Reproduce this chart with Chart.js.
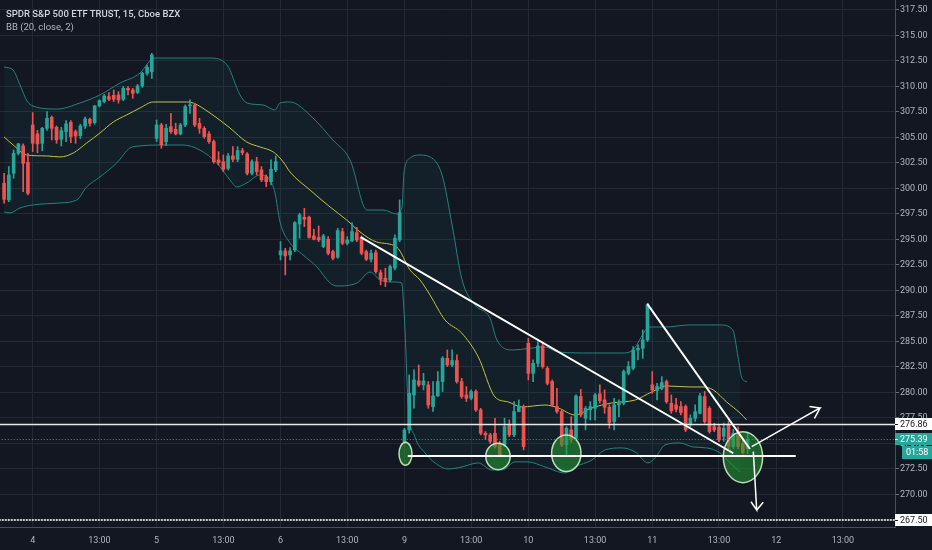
<!DOCTYPE html>
<html><head><meta charset="utf-8">
<script src="https://cdn.jsdelivr.net/npm/chart.js@4.4.1/dist/chart.umd.min.js"></script>
<style>
html,body{margin:0;padding:0;background:#131722;overflow:hidden}
#wrap{position:relative;width:932px;height:550px}
canvas{display:block}
.lg{position:absolute;left:6px;font-family:Roboto,sans-serif;white-space:nowrap;line-height:12px}
#t1{top:8px;font-size:9.5px;font-weight:500;color:#d1d4dc}
#t2{top:21px;font-size:9.5px;color:#b2b5be}
</style></head><body>
<div id="wrap"><canvas id="c" width="932" height="550"></canvas>
<div class="lg" id="t1">SPDR S&amp;P 500 ETF TRUST, 15, Cboe BZX</div>
<div class="lg" id="t2">BB (20, close, 2)</div></div>
<script>
// ---- candles (15-min bars, index 0 = first visible bar) ----
const openV = [
300.51,298.88,301.49,303.45,304.17,302.57,
306.23,305.35,304.43,305.9,306.98,306.0,304.83,305.58,306.49,305.58,305.18,306.13,306.79,306.46,308.09,308.52,309.01,309.14,309.17,308.75,309.82,309.66,309.4,310.05,311.29,311.46,
304.92,306.23,304.6,306.06,305.8,305.35,306.23,308.1,308.19,306.39,305.9,305.35,304.6,302.8,302.63,301.98,303.19,302.86,303.71,303.39,301.49,302.63,301.82,301.16,300.67,301.82,
293.49,293.88,293.49,293.97,296.52,297.18,297.18,295.35,295.2,294.3,295.02,293.81,293.26,295.77,294.63,294.89,295.67,295.2,293.81,293.06,293.71,291.75,291.2,291.03,292.2,294.95,
275.18,276.33,279.76,281.13,280.74,280.74,278.62,279.66,281.07,283.35,282.7,283.13,281.07,279.76,279.43,280.09,278.29,276.0,275.84,276.0,275.02,274.86,276.82,275.84,278.13,278.62,
284.82,281.88,282.86,284.56,282.37,281.07,278.62,278.13,274.86,276.33,275.5,279.6,277.47,278.3,278.45,279.86,279.27,278.55,277.15,278.78,278.94,281.88,282.37,284.17,284.33,285.15,
280.74,280.2,280.4,281.07,278.94,278.78,278.62,278.62,276.82,277.47,277.96,279.6,278.45,276.65,276.59,275.7,276.9,274.7,276.0,275.0,274.5];
const highV = [
301.49,302.14,303.78,304.43,304.37,303.45,
307.44,305.7,306.0,307.54,307.11,306.13,306.0,306.65,306.65,305.74,306.3,307.0,306.9,308.15,308.7,309.2,309.4,309.66,309.5,310.0,309.99,309.82,310.2,311.4,312.1,313.26,
306.72,306.39,306.3,307.37,306.4,306.39,308.19,308.68,308.35,306.88,306.06,305.57,304.76,303.61,303.29,303.45,304.1,304.1,303.94,303.52,302.8,303.06,302.15,301.33,302.8,303.19,
294.79,294.14,294.2,296.75,297.57,298.06,297.3,296.0,296.33,295.5,295.28,293.97,296.1,296.1,295.28,296.65,296.19,295.35,293.97,293.97,293.97,292.01,292.18,292.5,295.45,298.88,
276.49,281.72,282.21,282.7,281.88,281.07,281.07,282.05,283.52,284.17,284.17,283.68,281.39,280.58,280.25,280.25,278.45,276.17,276.0,277.47,275.2,277.47,277.31,279.11,279.27,278.78,
285.31,283.19,284.99,284.82,282.54,281.23,280.41,278.29,276.65,277.63,279.76,280.3,278.62,279.11,279.92,280.74,280.25,278.78,279.43,279.27,282.21,283.03,284.5,284.66,286.13,288.75,
282.05,280.9,281.56,281.23,279.76,279.43,279.1,278.78,277.8,278.78,279.92,280.1,278.62,276.98,276.82,277.0,277.2,276.4,276.6,275.4,276.1];
const lowV = [
298.55,298.71,301.0,303.29,299.69,299.37,
303.62,303.5,303.7,305.7,304.76,304.43,304.17,304.6,304.5,304.43,304.9,305.9,306.1,306.3,308.0,308.4,308.61,308.52,308.37,308.6,309.17,308.84,309.3,309.9,311.1,310.8,
304.6,303.94,304.2,305.41,305.25,305.25,306.06,307.37,306.06,305.41,304.92,304.43,302.47,302.31,301.65,301.82,302.63,302.63,303.29,301.33,301.33,301.33,300.67,300.18,300.35,301.65,
292.99,291.52,293.0,293.81,295.12,296.26,295.12,294.95,294.79,294.2,293.49,292.99,293.16,294.47,294.47,294.79,294.79,293.49,292.93,292.8,291.69,290.55,290.38,290.87,292.01,294.79,
275.0,276.0,278.45,280.58,280.25,278.45,278.13,279.6,280.09,282.54,282.54,280.9,279.43,279.11,279.27,278.13,275.84,275.4,275.0,274.53,273.7,274.69,275.67,275.67,278.1,274.37,
281.23,281.07,282.54,282.37,280.74,278.62,277.96,274.69,273.72,275.1,275.35,277.63,276.33,277.3,277.3,278.94,277.96,276.49,276.33,277.63,278.78,281.72,282.21,283.19,283.35,285.0,
279.92,279.27,280.25,278.94,277.96,278.1,277.8,276.16,276.65,277.15,277.9,276.98,276.0,276.16,275.18,275.2,274.4,274.5,274.5,274.0,274.0];
const closeV = [
298.94,301.33,303.45,304.37,302.47,299.53,
304.43,304.37,305.9,306.88,305.9,304.76,305.67,306.33,305.09,305.15,306.13,306.82,306.39,308.09,308.61,309.07,308.75,308.75,308.68,309.82,309.66,309.33,310.05,311.29,311.88,313.09,
306.23,304.27,305.9,305.57,305.35,306.23,308.03,308.19,306.23,305.9,305.09,304.6,302.63,302.54,301.88,303.19,302.86,303.71,303.52,301.49,302.63,301.65,300.84,300.67,301.88,302.63,
293.88,293.39,293.88,296.65,297.41,296.98,295.2,295.02,294.95,295.35,293.65,293.16,295.87,294.63,294.95,295.77,294.95,293.65,293.06,293.65,291.85,291.1,290.9,292.34,295.12,297.64,
276.33,279.92,281.23,280.74,281.13,278.78,279.66,281.07,283.35,282.7,283.13,281.07,279.6,279.43,280.09,278.29,276.0,275.84,275.2,274.69,273.88,276.65,275.84,278.13,278.62,274.69,
281.88,282.86,284.56,282.54,280.9,278.78,278.13,274.86,276.49,275.5,279.66,277.8,278.45,278.62,279.76,279.2,278.55,277.05,278.78,278.94,282.05,282.54,284.17,284.33,285.15,288.58,
280.25,280.58,280.97,279.1,278.2,278.35,278.03,276.33,277.47,278.12,279.66,277.15,276.16,276.33,275.35,276.5,274.7,276.0,274.7,274.1,275.39];

// ---- Bollinger Bands (at bar positions) ----
const bbUpperIdx = [0,1.87,3.34,4.81,6.06,11.1,15.9,20.1,24.32,28.51,30.2,31.24,43.2,46.77,49.5,50.97,54.32,56.84,57.89,60.0,64.81,69.0,72.6,76.14,79.5,82.44,83.49,83.9,85.2,87.27,89.4,91.9,94.0,96.1,98.8,101.95,103.4,106.6,113.5,116.2,123.4,129.6,131.7,135.5,138.7,143.9,150.2,152.9,154.0,154.8,155.9];
const bbUpperVal = [311.91,311.62,310.15,308.58,308.09,307.79,308.38,309.17,310.34,311.32,312.3,312.79,312.79,312.11,309.17,308.38,308.19,307.7,308.38,308.48,306.91,304.75,302.79,297.89,297.89,297.5,298.19,301.52,302.99,303.28,303.09,301.32,296.42,291.03,288.58,287.3,285.15,284.17,284.46,283.97,283.87,283.87,284.07,286.42,286.42,286.62,286.62,286.13,283.48,281.42,281.03];
const bbMidIdx = [0,1.93,4.74,8.94,11.73,14.52,17.33,20.12,22.91,25.72,28.51,31.31,38.31,39.7,43.2,47.4,50.9,53.7,56.48,58.58,59.99,64.18,68.38,71.88,74.67,78.18,82.37,85.17,87.27,89.36,92.51,96.01,99.5,103.0,105.8,108.6,113.5,116.3,119.8,123.3,127.5,132.4,135.9,139.0,143.9,146.7,148.8,151.6,154.4,155.8];
const bbMidVal = [305.05,304.26,303.28,303.19,303.09,303.48,304.46,305.44,306.52,307.21,307.89,308.48,308.48,308.38,307.4,305.93,304.56,304.07,303.58,302.6,301.62,299.85,298.19,296.91,295.74,294.75,294.26,292.01,291.03,289.56,287.11,285.83,283.48,279.56,279.07,278.58,278.77,278.48,277.79,278.48,278.97,279.26,280.05,280.64,280.54,280.54,280.25,279.07,277.99,277.3];
const bbLowIdx = [0,1.24,3.34,6.06,11.73,15.23,17.33,20.12,23.63,26.42,28.51,32.02,37.54,41.1,44.61,47.4,48.8,50.9,53.69,55.79,56.84,57.89,59.99,62.72,65.65,68.38,69.85,74.05,76.78,78.87,81.6,83.42,83.76,84.12,84.75,86.21,88.32,90.41,93.14,96.08,99.43,102.37,104.47,107.2,109.93,113.5,117.7,119.8,123.35,126.08,129.65,132.38,135.1,136.57,138.67,141.8,144.5,147.5,150.2,152.3,154.4];
const bbLowVal = [297.7,297.6,298.09,298.38,298.58,298.87,300.15,301.13,302.5,303.97,304.17,304.26,304.26,303.77,302.5,300.83,300.15,300.54,301.32,300.83,299.56,296.72,294.66,293.48,292.3,290.74,290.44,290.74,291.81,291.03,290.83,290.74,289.07,286.13,278.97,275.64,274.07,273.09,272.5,272.7,273.09,272.4,272.4,273.19,273.19,272.7,272.11,272.7,273.38,274.36,274.56,274.17,273.09,273.58,274.85,275.05,274.66,274.56,274.07,273.09,272.21];

// ---- axis ticks ----
const xTickIdx = [6,20,32,46,58,72,84,98,110,124,136,150,162,176];
const xTickLabels = ['4','13:00','5','13:00','6','13:00','9','13:00','10','13:00','11','13:00','12','13:00'];
const yTickVals = [267.5,270,272.5,275,277.5,280,282.5,285,287.5,290,292.5,295,297.5,300,302.5,305,307.5,310,312.5,315,317.5];

// ---- drawings (bar index, price) ----
const trend1X = [74.82,153.0], trend1Y = [295.22,274.04];
const trend2X = [134.96,156.5], trend2Y = [288.68,274.46];
const supportX = [84.7,166.1], supportY = [273.77,273.77];
const arrowUpX = [156.86,171.19,168.99,171.19,170.03], arrowUpY = [274.69,278.48,278.63,278.48,277.45];
const arrowDnX = [157.2,157.91,156.71,157.91,159.29], arrowDnY = [274.2,268.48,269.29,268.48,269.24];
const ellX = [84.22,103.63,117.96,155.03], ellY = [274.0,273.73,274.04,273.66];
const ellRX = [1.36,2.56,3.08,4.13], ellRY = [1.13,1.3,1.8,2.5];
const hLevels = [276.86,275.39,267.5];
const tagVals = [276.86,275.39,267.5];
const countdown = '01:58';

const upColor = '#26a69a', downColor = '#ef5350';
const N = openV.length;
const ids = Array.from({length:N},(_,i)=>i);
const cColors = ids.map(i => closeV[i] >= openV[i] ? upColor : downColor);
const pts = (xs,ys) => xs.map((x,k)=>({x:x,y:ys[k]}));
const flat = v => [{x:-3,y:v},{x:200,y:v}];

const lineBase = {type:'line', pointRadius:0, borderWidth:2, borderColor:'#ffffff', fill:false, tension:0, order:1};

const bgPlugin = {id:'bg', beforeDraw(c){const x=c.ctx; x.save(); x.fillStyle='#131722'; x.fillRect(0,0,c.width,c.height); x.restore();}};
const ellPlugin = {id:'ell', afterDatasetDraw(c,args){
  if (c.data.datasets[args.index].label !== 'bodies') return;
  const xs=c.scales.x, ys=c.scales.y, ctx=c.ctx, a=c.chartArea;
  ctx.save(); ctx.beginPath(); ctx.rect(a.left,a.top,a.right-a.left,a.bottom-a.top); ctx.clip();
  for (let i=0;i<ellX.length;i++){
    const cx=xs.getPixelForValue(ellX[i]), cy=ys.getPixelForValue(ellY[i]);
    const rx=Math.abs(xs.getPixelForValue(ellX[i]+ellRX[i])-cx), ry=Math.abs(ys.getPixelForValue(ellY[i]+ellRY[i])-cy);
    ctx.beginPath(); ctx.ellipse(cx,cy,rx,ry,0,0,Math.PI*2);
    ctx.fillStyle='rgba(38,150,50,0.58)'; ctx.fill();
    ctx.lineWidth=1.5; ctx.strokeStyle='rgba(205,240,200,0.9)'; ctx.stroke();
  }
  ctx.restore();
}};
const tagPlugin = {id:'tags', afterDraw(c){
  const ys=c.scales.y, ctx=c.ctx, L=c.chartArea.right;
  const bgs=['#ffffff','#26a69a','#ffffff'], fgs=['#131722','#ffffff','#131722'];
  ctx.save(); ctx.font='9px Roboto'; ctx.textBaseline='middle'; ctx.textAlign='left';
  tagVals.forEach((v,i)=>{
    const y=Math.round(ys.getPixelForValue(v));
    ctx.fillStyle=bgs[i]; ctx.fillRect(L,y-6,c.width-L,12);
    ctx.strokeStyle=fgs[i]; ctx.lineWidth=1; ctx.beginPath(); ctx.moveTo(L,y+0.5); ctx.lineTo(L+3,y+0.5); ctx.stroke();
    ctx.fillStyle=fgs[i]; ctx.fillText(v.toFixed(2),L+5,y+0.5);
  });
  const y2=Math.round(ys.getPixelForValue(tagVals[1]))+14;
  ctx.fillStyle='#26a69a'; ctx.fillRect(L+7,y2-7,c.width-L-7,13);
  ctx.fillStyle='#ffffff'; ctx.fillText(countdown,L+11,y2);
  ctx.restore();
}};

Chart.defaults.font.family = 'Roboto, sans-serif';
new Chart(document.getElementById('c'), {
  type:'bar',
  data:{datasets:[
    {type:'line', label:'upper', data:pts(bbUpperIdx,bbUpperVal), borderColor:'#23837d', borderWidth:1, pointRadius:0, cubicInterpolationMode:'monotone', fill:{target:'+2'}, backgroundColor:'rgba(38,166,154,0.06)', order:10},
    {type:'line', label:'basis', data:pts(bbMidIdx,bbMidVal), borderColor:'#c3c33c', borderWidth:1, pointRadius:0, cubicInterpolationMode:'monotone', fill:false, order:9},
    {type:'line', label:'lower', data:pts(bbLowIdx,bbLowVal), borderColor:'#23837d', borderWidth:1, pointRadius:0, cubicInterpolationMode:'monotone', fill:false, order:10},
    {label:'wicks', data:ids.map(i=>({x:i,y:[lowV[i],highV[i]]})), backgroundColor:cColors, barThickness:1, grouped:false, order:8},
    {label:'bodies', data:ids.map(i=>({x:i,y:[openV[i],closeV[i]]})), backgroundColor:cColors, barThickness:3, minBarLength:1, grouped:false, order:7},
    Object.assign({}, lineBase, {label:'h1', data:flat(hLevels[0]), borderWidth:1.5, borderColor:'#e8e8e8', order:3}),
    Object.assign({}, lineBase, {label:'h2', data:flat(hLevels[1]), borderWidth:1, borderColor:'#26a69a', borderDash:[1,2], order:3}),
    Object.assign({}, lineBase, {label:'h3', data:flat(hLevels[2]), borderWidth:2, borderColor:'#c8c8c8', borderDash:[2,1], order:3}),
    Object.assign({}, lineBase, {label:'trend1', data:pts(trend1X,trend1Y)}),
    Object.assign({}, lineBase, {label:'trend2', data:pts(trend2X,trend2Y)}),
    Object.assign({}, lineBase, {label:'support', data:pts(supportX,supportY)}),
    Object.assign({}, lineBase, {label:'arrowUp', data:pts(arrowUpX,arrowUpY), borderWidth:1.5}),
    Object.assign({}, lineBase, {label:'arrowDn', data:pts(arrowDnX,arrowDnY), borderWidth:1.5})
  ]},
  options:{
    responsive:false, animation:false, events:[],
    layout:{padding:0},
    plugins:{legend:{display:false}, tooltip:{enabled:false}, title:{display:false}},
    scales:{
      x:{type:'linear', min:-0.86, max:186.93, offset:false, bounds:'data',
         grid:{color:'#252935', offset:false, drawTicks:false},
         border:{display:true, color:'#4a4e59'},
         afterBuildTicks(s){ s.ticks = xTickIdx.map(v=>({value:v})); },
         afterFit(s){ s.height = 23; s.paddingLeft=0; s.paddingRight=0; s.paddingTop=0; s.paddingBottom=0; },
         ticks:{autoSkip:false, maxRotation:0, padding:8, color:'#b2b5be', font:{size:9},
           callback(v){ const k=xTickIdx.indexOf(v); return k>=0 ? xTickLabels[k] : ''; }}},
      y:{type:'linear', position:'right', min:266.81, max:318.48, bounds:'data',
         grid:{color:'#252935', drawTicks:true, tickLength:4, tickColor:'#6a6d78'},
         border:{display:true, color:'#4a4e59'},
         afterBuildTicks(s){ s.ticks = yTickVals.map(v=>({value:v})); },
         afterFit(s){ s.width = 37; s.paddingTop=0; s.paddingBottom=0; s.paddingLeft=0; s.paddingRight=0; },
         ticks:{padding:1, color:'#b2b5be', font:{size:9}, callback(v){ return Number(v).toFixed(2); }}}
    }
  },
  plugins:[bgPlugin, ellPlugin, tagPlugin]
});
</script>
</body></html>
